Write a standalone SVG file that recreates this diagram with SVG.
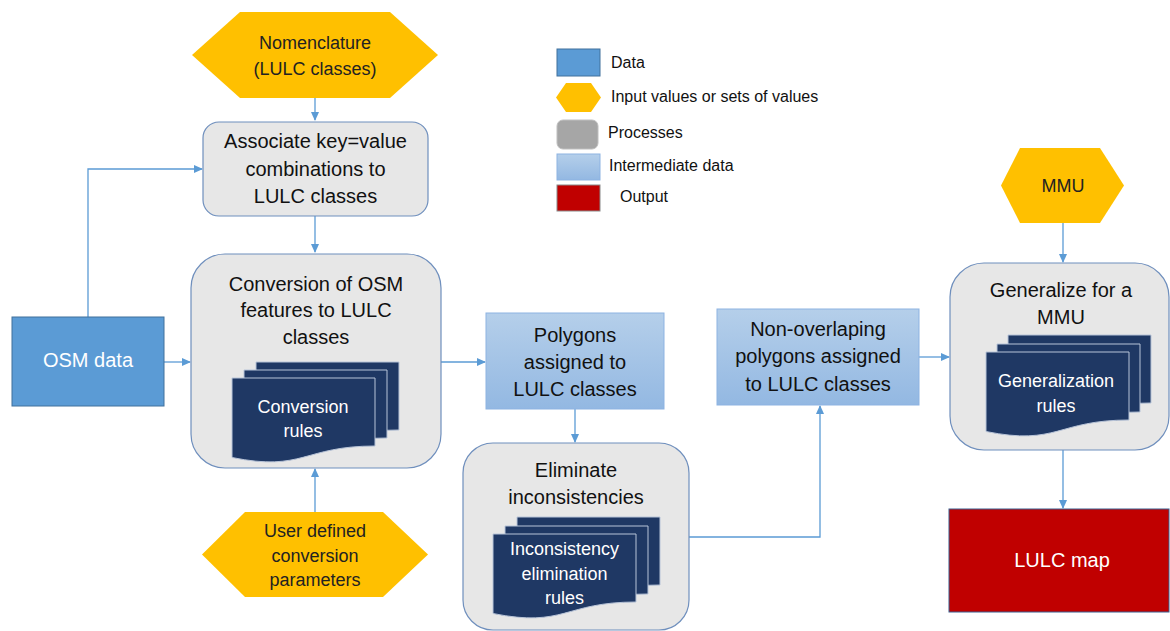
<svg xmlns="http://www.w3.org/2000/svg" width="1170" height="631" viewBox="0 0 1170 631">
<style>
text{font-family:"Liberation Sans",Arial,sans-serif;text-anchor:middle}
.proc{fill:#e7e7e7;stroke:#6f8fbd;stroke-width:1.2}
.hex{fill:#ffc000}
.data{fill:#5b9bd5;stroke:#41719c;stroke-width:1}
.inter{fill:url(#gInter);stroke:#8db3e2;stroke-width:1}
.out{fill:#c00000;stroke:#3b5f8f;stroke-width:1}
.sheet{fill:#1f3864;stroke:#b8c4d8;stroke-width:1}
.t20{font-size:20px;fill:#111}
.t18{font-size:18px;fill:#222}
.tw{fill:#ffffff}
.t17w{font-size:18px;fill:#ffffff}
.leg{font-size:16px;fill:#111;text-anchor:start}
.conn{fill:none;stroke:#5b9bd5;stroke-width:1.3}
</style>
<defs>
<linearGradient id="gInter" x1="0" y1="0" x2="0" y2="1">
<stop offset="0" stop-color="#b5cfea"/>
<stop offset="1" stop-color="#93b8e2"/>
</linearGradient>
<marker id="arr" markerWidth="9" markerHeight="8" refX="8" refY="4" orient="auto" markerUnits="userSpaceOnUse">
<path d="M0,0 L9,4 L0,8 Z" fill="#5b9bd5"/>
</marker>
<path id="doc" d="M0,0 H143 V68 C71.5,68 71.5,94 0,79.5 Z"/>
</defs>

<g id="legend">
<rect x="557" y="49" width="43" height="27" fill="#5b9bd5" stroke="#41719c"/>
<text class="leg" x="611" y="68">Data</text>
<polygon class="hex" points="556,97.5 566,83 591,83 601,97.5 591,112 566,112"/>
<text class="leg" x="611" y="102">Input values or sets of values</text>
<rect x="557" y="120" width="41" height="29" rx="6" fill="#a6a6a6" stroke="#bfbfbf"/>
<text class="leg" x="608" y="138">Processes</text>
<rect x="557" y="154" width="43" height="26" class="inter"/>
<text class="leg" x="609" y="171">Intermediate data</text>
<rect x="557" y="185" width="43" height="26" fill="#c00000" stroke="#8a8a8a"/>
<text class="leg" x="620" y="202">Output</text>
</g>

<g id="connectors">
<path class="conn" d="M315,98 V120" marker-end="url(#arr)"/>
<path class="conn" d="M315,216 V252" marker-end="url(#arr)"/>
<path class="conn" d="M88,317 V169 H202" marker-end="url(#arr)"/>
<path class="conn" d="M164,362 H190" marker-end="url(#arr)"/>
<path class="conn" d="M315,512 V469" marker-end="url(#arr)"/>
<path class="conn" d="M441,362 H485" marker-end="url(#arr)"/>
<path class="conn" d="M575,409 V442" marker-end="url(#arr)"/>
<path class="conn" d="M689,537 H820 V406" marker-end="url(#arr)"/>
<path class="conn" d="M919,357 H949" marker-end="url(#arr)"/>
<path class="conn" d="M1063,223 V262" marker-end="url(#arr)"/>
<path class="conn" d="M1063,450 V508" marker-end="url(#arr)"/>
</g>

<g id="nomenclature">
<polygon class="hex" points="192,55 240,12 390,12 438,55 390,98 240,98"/>
<text class="t18" x="315" y="49">Nomenclature</text>
<text class="t18" x="315" y="75">(LULC classes)</text>
</g>

<g id="associate">
<rect class="proc" x="203" y="122" width="225" height="94" rx="16"/>
<text class="t20" x="315.5" y="148">Associate key=value</text>
<text class="t20" x="315.5" y="176">combinations to</text>
<text class="t20" x="315.5" y="203">LULC classes</text>
</g>

<g id="osm-data">
<rect class="data" x="12" y="317" width="152" height="89"/>
<text class="t20 tw" x="88" y="367">OSM data</text>
</g>

<g id="conversion">
<rect class="proc" x="191" y="254" width="250" height="214" rx="34"/>
<text class="t20" x="316" y="291">Conversion of OSM</text>
<text class="t20" x="316" y="317">features to LULC</text>
<text class="t20" x="316" y="344">classes</text>
<use href="#doc" class="sheet" x="256" y="362"/>
<use href="#doc" class="sheet" x="244" y="370"/>
<use href="#doc" class="sheet" x="232" y="378"/>
<text class="t17w" x="303" y="413">Conversion</text>
<text class="t17w" x="303" y="437">rules</text>
</g>

<g id="user-params">
<polygon class="hex" points="202,554.5 245,512 383,512 428,554.5 383,597 245,597"/>
<text class="t18" x="315" y="537">User defined</text>
<text class="t18" x="315" y="562">conversion</text>
<text class="t18" x="315" y="586">parameters</text>
</g>

<g id="polygons">
<rect class="inter" x="486" y="313" width="178" height="96"/>
<text class="t20" x="575" y="342">Polygons</text>
<text class="t20" x="575" y="369">assigned to</text>
<text class="t20" x="575" y="396">LULC classes</text>
</g>

<g id="eliminate">
<rect class="proc" x="463" y="443" width="226" height="187" rx="30"/>
<text class="t20" x="576" y="477">Eliminate</text>
<text class="t20" x="576" y="504">inconsistencies</text>
<use href="#doc" class="sheet" x="517" y="517"/>
<use href="#doc" class="sheet" x="505" y="526"/>
<use href="#doc" class="sheet" x="493" y="534"/>
<text class="t17w" x="564.5" y="555">Inconsistency</text>
<text class="t17w" x="564.5" y="580">elimination</text>
<text class="t17w" x="564.5" y="604">rules</text>
</g>

<g id="non-overlapping">
<rect class="inter" x="717" y="309" width="202" height="96"/>
<text class="t20" x="818" y="336">Non-overlaping</text>
<text class="t20" x="818" y="363">polygons assigned</text>
<text class="t20" x="818" y="391">to LULC classes</text>
</g>

<g id="mmu">
<polygon class="hex" points="1001,185.5 1020,148 1100,148 1124,185.5 1100,223 1020,223"/>
<text class="t18" x="1063" y="192">MMU</text>
</g>

<g id="generalize">
<rect class="proc" x="950" y="263" width="219" height="187" rx="34"/>
<text class="t20" x="1061" y="297">Generalize for a</text>
<text class="t20" x="1061" y="324">MMU</text>
<use href="#doc" class="sheet" x="1008" y="335"/>
<use href="#doc" class="sheet" x="997" y="344"/>
<use href="#doc" class="sheet" x="986" y="352"/>
<text class="t17w" x="1056" y="387">Generalization</text>
<text class="t17w" x="1056" y="412">rules</text>
</g>

<g id="lulc-map">
<rect class="out" x="949" y="509" width="220" height="103"/>
<text class="t20 tw" x="1062" y="567">LULC map</text>
</g>
</svg>
